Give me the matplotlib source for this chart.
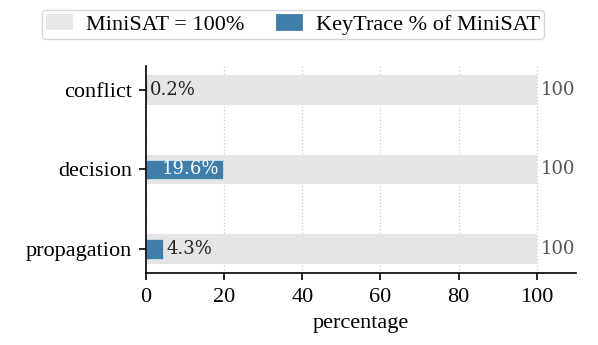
import numpy as np
import matplotlib
matplotlib.use("Agg")
import matplotlib.pyplot as plt

plt.rcParams["font.family"] = ["Liberation Serif", "DejaVu Serif"]
plt.rcParams["mathtext.fontset"] = "stix"

categories = ["propagation", "decision", "conflict"]
minisat = [100, 100, 100]
keytrace = [4.3, 19.6, 0.2]
xticks = [0, 20, 40, 60, 80, 100]

gray = "#e5e5e5"
blue = "#3f7ea8"

fig = plt.figure(figsize=(5.98, 3.45), dpi=100)
ax = fig.add_axes([0.244, 0.209, 0.719, 0.6])

y = np.arange(len(categories))
ax.barh(y, minisat, height=0.37, color=gray, label="MiniSAT = 100%", zorder=1)
bars = ax.barh(y, keytrace, height=0.24, color=blue, edgecolor="#d0e0ea",
               linewidth=0.6, label="KeyTrace % of MiniSAT", zorder=2)

for yi, v, m in zip(y, keytrace, minisat):
    if v > 10:
        ax.text(v - 0.8, yi, f"{v}%", ha="right", va="center", color="white",
                fontsize=13, family="DejaVu Serif", zorder=3)
    else:
        ax.text(v + 0.9, yi, f"{v}%", ha="left", va="center", color="#222222",
                fontsize=13, family="DejaVu Serif", zorder=3)
    ax.text(m + 1.0, yi, f"{m}", ha="left", va="center", color="#555555",
            fontsize=13, family="DejaVu Serif")

ax.set_xlim(0, 110)
ax.set_ylim(-0.3, 2.3)
ax.set_yticks(y)
ax.set_yticklabels(categories, fontsize=16)
ax.set_xticks(xticks)
ax.set_xticklabels([str(t) for t in xticks], fontsize=16)
ax.set_xlabel("percentage", fontsize=16, labelpad=5)
ax.xaxis.grid(True, linestyle=":", color="#cccccc", linewidth=0.9, zorder=0)
ax.set_axisbelow(True)
for s in ["top", "right"]:
    ax.spines[s].set_visible(False)
ax.spines["left"].set_linewidth(1.2)
ax.spines["bottom"].set_linewidth(1.2)
ax.tick_params(width=1.2, length=5)
ax.tick_params(axis="x", pad=6)
ax.tick_params(axis="y", pad=5)

leg = fig.legend(loc="upper center", bbox_to_anchor=(0.49, 0.985), ncol=2, fontsize=16,
                 frameon=True, fancybox=True, edgecolor="#cccccc", handlelength=1.2,
                 borderpad=0.2, columnspacing=1.4, handletextpad=0.6, borderaxespad=0.2)
leg.legend_handles[0].set_facecolor("#e8e8e8")
leg.legend_handles[1].set_edgecolor(blue)

fig.savefig("out.png", dpi=100)
